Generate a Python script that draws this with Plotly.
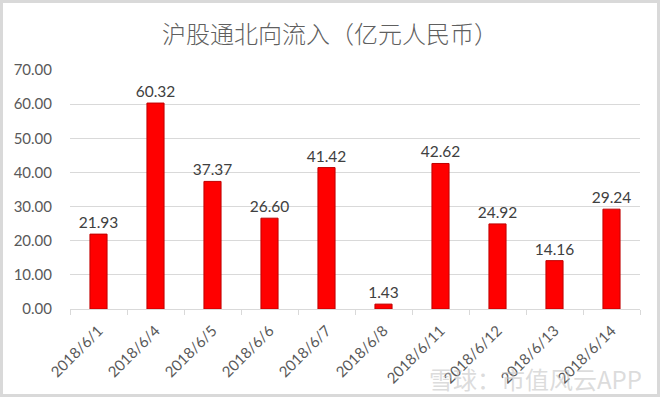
import plotly.graph_objects as go

dates = ["2018/6/1", "2018/6/4", "2018/6/5", "2018/6/6", "2018/6/7",
         "2018/6/8", "2018/6/11", "2018/6/12", "2018/6/13", "2018/6/14"]
inflow = [21.93, 60.32, 37.37, 26.60, 41.42, 1.43, 42.62, 24.92, 14.16, 29.24]
title_text = "沪股通北向流入（亿元人民币）"
watermark = "雪球：市值风云APP"

W, H = 660, 397
L, R, T, B = 70, 20, 70, 88
pw, ph = W - L - R, H - T - B

fig = go.Figure(go.Bar(
    x=dates, y=inflow,
    marker=dict(color="#FF0000", line=dict(color="#C00000", width=1)),
    text=[f"{v:.2f}" for v in inflow],
    textposition="outside",
    textangle=0,
    constraintext="none",
    textfont=dict(family="Lato, Noto Sans", size=15.5, color="#404040"),
    cliponaxis=False,
    hoverinfo="x+y",
))

def px_x(p):
    return (p - L) / pw

def px_y(p):
    return (H - B - p) / ph

fig.update_layout(
    width=W, height=H,
    margin=dict(l=L, r=R, t=T, b=B, autoexpand=False),
    paper_bgcolor="white", plot_bgcolor="white",
    bargap=0.7,
    showlegend=False,
    title=dict(text=title_text, x=0.5, xanchor="center", y=1 - 35 / H, yanchor="middle",
               font=dict(family="Noto Sans CJK SC", size=24, color="#5f5f5f", weight=300)),
    xaxis=dict(
        type="category", tickangle=-45, automargin=False,
        tickfont=dict(family="Lato, Noto Sans", size=15, color="#595959"),
        showline=True, linecolor="#D9D9D9", linewidth=1,
        ticks="outside", tickson="boundaries", ticklen=5, tickcolor="#D9D9D9",
        showgrid=False, ticklabelstandoff=6,
    ),
    yaxis=dict(
        range=[0, 70], dtick=10, tickformat=".2f", automargin=False,
        tickfont=dict(family="Lato, Noto Sans", size=15, color="#595959"),
        showgrid=True, gridcolor="#D9D9D9", gridwidth=1,
        zeroline=False, showline=False, ticks="", ticklabelstandoff=17,
    ),
    shapes=[dict(type="rect", xref="paper", yref="paper",
                 x0=px_x(1.5), x1=px_x(W - 1.5), y0=px_y(H - 1.5), y1=px_y(1.5),
                 line=dict(color="#D9D9D9", width=3), layer="below")],
    annotations=[dict(text=watermark, xref="paper", yref="paper",
                      x=px_x(535), y=px_y(378), xanchor="center", yanchor="middle",
                      showarrow=False,
                      font=dict(family="Noto Sans CJK SC", size=24, color="rgba(190,190,190,0.55)"))],
)

fig.write_html("out.html", config={"displayModeBar": False},
               post_script="document.body.style.margin='0';")
